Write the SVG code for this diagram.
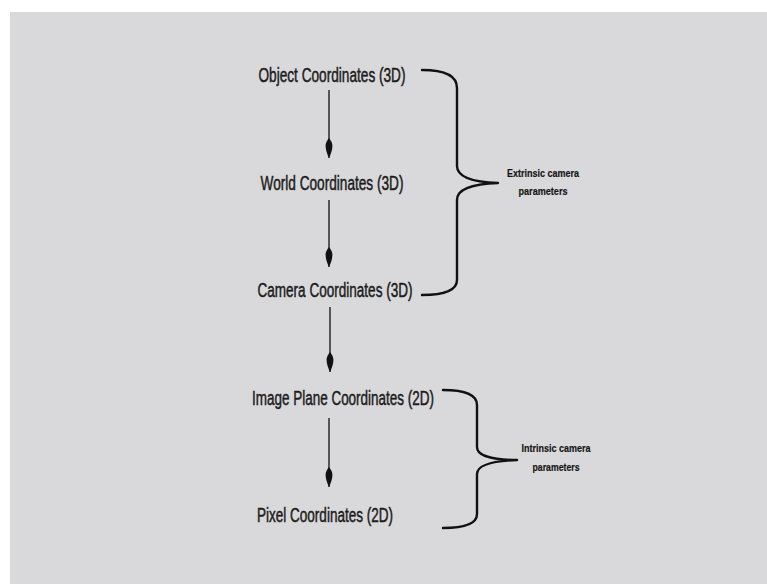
<svg xmlns="http://www.w3.org/2000/svg" width="767" height="584" viewBox="0 0 767 584">
<defs>
<style>
.node{font-family:"Liberation Sans",Arial,sans-serif;font-size:20px;fill:#1c1c1c;text-anchor:middle;stroke:#1c1c1c;stroke-width:0.5}
.lbl{font-family:"Liberation Sans",Arial,sans-serif;font-size:11.5px;font-weight:bold;fill:#151515;text-anchor:middle;stroke:#151515;stroke-width:0.2}
.conn{stroke:#2a2a2a;stroke-width:1.5;fill:none;marker-end:url(#ah)}
.brace{stroke:#111;stroke-width:2.4;fill:none;stroke-linecap:round;stroke-linejoin:round}
</style>
<marker id="ah" markerUnits="userSpaceOnUse" orient="auto" refX="0" refY="0" markerWidth="24" markerHeight="10" viewBox="-21 -5 22 10" overflow="visible">
<path d="M0,0 C-4,-2 -9,-3.6 -13,-3.4 C-16,-3 -18,-1.5 -20,0 C-18,1.5 -16,3 -13,3.4 C-9,3.6 -4,2 0,0Z" fill="#111"/>
</marker>
</defs>
<rect x="0" y="0" width="767" height="584" fill="#ffffff"/>
<rect x="10" y="12" width="757" height="572" fill="#d9d9db"/>
<g id="connectors">
<line class="conn" x1="329" y1="90" x2="329" y2="158"/>
<line class="conn" x1="329" y1="200" x2="329" y2="267"/>
<line class="conn" x1="330" y1="307" x2="330" y2="372"/>
<line class="conn" x1="329" y1="418" x2="329" y2="487"/>
</g>
<g id="object"><text class="node" x="332" y="82" textLength="147" lengthAdjust="spacingAndGlyphs">Object Coordinates (3D)</text></g>
<g id="world"><text class="node" x="332" y="190" textLength="143" lengthAdjust="spacingAndGlyphs">World Coordinates (3D)</text></g>
<g id="camera"><text class="node" x="335" y="297" textLength="155" lengthAdjust="spacingAndGlyphs">Camera Coordinates (3D)</text></g>
<g id="imageplane"><text class="node" x="343" y="405" textLength="182" lengthAdjust="spacingAndGlyphs">Image Plane Coordinates (2D)</text></g>
<g id="pixel"><text class="node" x="325" y="522" textLength="136" lengthAdjust="spacingAndGlyphs">Pixel Coordinates (2D)</text></g>
<g id="extrinsic">
<path class="brace" d="M422,70 C445,70 457,76 457,88 L457,166 C457,176 470,182 498,183 C470,184 457,190 457,200 L457,280 C457,290 445,295 422,295"/>
<text class="lbl" x="543" y="177" textLength="72" lengthAdjust="spacingAndGlyphs">Extrinsic camera</text>
<text class="lbl" x="543" y="195" textLength="49" lengthAdjust="spacingAndGlyphs">parameters</text>
</g>
<g id="intrinsic">
<path class="brace" d="M443,390 C466,390 477,395 477,405 L477,447 C477,455 490,460 517,460 C490,461 477,466 477,474 L477,514 C477,523 466,528 443,528"/>
<text class="lbl" x="556" y="452" textLength="69" lengthAdjust="spacingAndGlyphs">Intrinsic camera</text>
<text class="lbl" x="556" y="471" textLength="47" lengthAdjust="spacingAndGlyphs">parameters</text>
</g>
</svg>
